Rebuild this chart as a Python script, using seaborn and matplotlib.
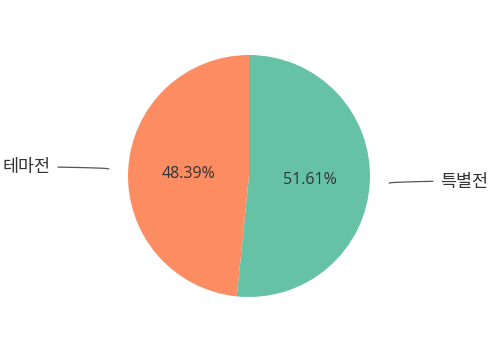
import numpy as np
import matplotlib
matplotlib.use("Agg")
import matplotlib.pyplot as plt
import seaborn as sns

categories = ["특별전", "테마전"]
values = [51.61, 48.39]
pct_labels = ["51.61%", "48.39%"]

sns.set_theme(style="white")
plt.rcParams['font.family'] = ['Noto Sans CJK KR', 'DejaVu Sans']
colors = sns.color_palette("Set2", 2)

W, H = 500, 364
fig = plt.figure(figsize=(W / 100, H / 100), dpi=100)
ax = fig.add_axes([0, 0, 1, 1])

cx, cy, R = 249, H - 176, 121
wedges, _ = ax.pie(values, colors=colors, startangle=90, counterclock=False,
                   center=(cx, cy), radius=R, wedgeprops=dict(linewidth=0))
ax.set_xlim(0, W)
ax.set_ylim(0, H)
ax.set_aspect("equal")
ax.axis("off")

txt_color = "#333333"
for w, lab, pct in zip(wedges, categories, pct_labels):
    ang = np.deg2rad((w.theta1 + w.theta2) / 2)
    c, s = np.cos(ang), np.sin(ang)
    ax.text(cx + 0.5 * R * c, cy + 0.5 * R * s - 1, pct, ha="center", va="center",
            fontsize=11.5, color=txt_color, family=['Open Sans', 'Noto Sans CJK KR'])
    sx, sy = cx + 1.16 * R * c, cy + 1.16 * R * s
    side = 1 if c > 0 else -1
    ex = cx + side * (1.58 if side < 0 else 1.52) * R
    xs = np.linspace(0, 1, 20)
    ax.plot(sx + (ex - sx) * xs, sy + 1.8 * np.sqrt(xs), color="#555555", lw=0.9)
    ax.text(ex + side * 7, sy + 1.5, lab, ha="left" if side > 0 else "right",
            va="center", fontsize=12.5, color=txt_color)

fig.savefig("out.png", dpi=100)
